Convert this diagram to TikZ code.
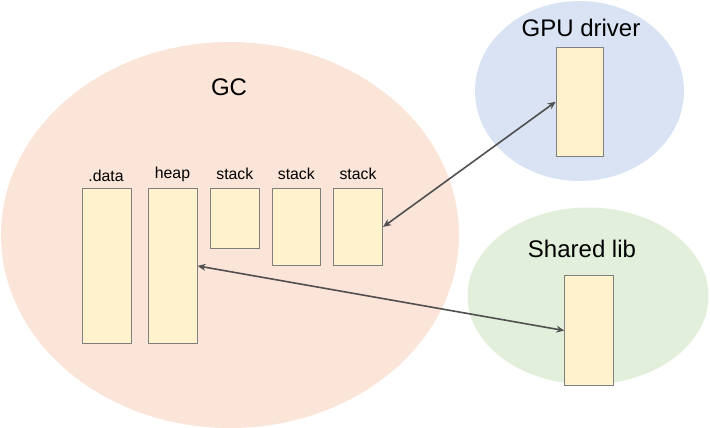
\documentclass[tikz,border=0pt]{standalone}
\usepackage{fontspec}
\setmainfont{Liberation Sans}
\usepackage{xcolor}
\usetikzlibrary{
  arrows.meta,
  shapes.geometric
}

\definecolor{gcfill}{HTML}{FBE4D8}
\definecolor{gpufill}{HTML}{D9E3F3}
\definecolor{libfill}{HTML}{E2EFDA}
\definecolor{segfill}{HTML}{FFF2CC}
\definecolor{segline}{HTML}{7F7F7F}
\definecolor{linkline}{HTML}{505050}

\begin{document}
\begin{tikzpicture}[%
          x=1pt,y=-1pt,
          region/.style={
              ellipse,
              inner sep=0pt
            },segment/.style 2 args={
              draw=segline,
              fill=segfill,
              line width=0.8pt,
              anchor=north west,
              minimum width=#1,
              minimum height=#2,
              inner sep=0pt
            },biglabel/.style={
              font=\fontsize{24}{28}\selectfont
            },smalllabel/.style={
              font=\fontsize{15.8}{18}\selectfont
            },link/.style={
              draw=linkline,
              line width=1.6pt,
              {Stealth[length=8pt,width=7pt]}-{Stealth[length=8pt,width=7pt]}
            }
        ]

        % 画像の大きさ
        \useasboundingbox (0,0) rectangle (710,428);

        % 領域(楕円)
        \fill[gcfill] (230,235) ellipse [x radius=229, y radius=193];
        \fill[gpufill] (579.5,91) ellipse [x radius=104.5, y radius=90];
        \fill[libfill] (588,296) ellipse [x radius=120.5, y radius=88.5];

        % 領域の名前
        \node[biglabel] (gc) at (229,87) {GC};
        \node[biglabel] (gpu) at (581,28) {GPU driver};
        \node[biglabel] (lib) at (582,249) {Shared lib};

        % セグメント
        \node[segment={48.5pt}{155pt}] (data) at (82,188) {};
        \node[segment={48.5pt}{155pt}] (heap) at (148.3,188) {};
        \node[segment={49pt}{60pt}] (stackA) at (210.3,188) {};
        \node[segment={48pt}{77pt}] (stackB) at (272.3,188) {};
        \node[segment={49pt}{77pt}] (stackC) at (333.3,188) {};
        \node[segment={47.6pt}{109.3pt}] (gpuseg) at (555.7,46.7) {};
        \node[segment={48.4pt}{109.7pt}] (libseg) at (564.3,275.3) {};

        % セグメントの名前
        \node[smalllabel] (datalabel) at (106,175.5) {.data};
        \node[smalllabel] (heaplabel) at (172.5,174.5) {heap};
        \node[smalllabel] (stackAlabel) at (234.8,173.5) {stack};
        \node[smalllabel] (stackBlabel) at (296.3,173.5) {stack};
        \node[smalllabel] (stackClabel) at (358,173.5) {stack};

        % 参照
        \draw[link] (stackC.east) -- (gpuseg.west);
        \draw[link] (heap.east) -- (libseg.west);

      \end{tikzpicture}
\end{document}
